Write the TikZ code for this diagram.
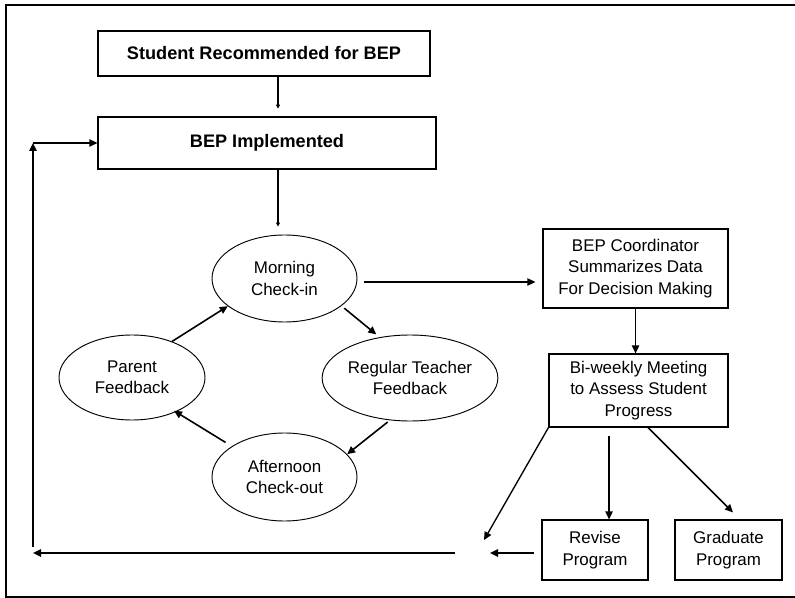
\documentclass[tikz,border=0pt]{standalone}
\usepackage{fontspec}
\setmainfont{Liberation Sans}
\usetikzlibrary{arrows.meta,calc,shapes.geometric}
\begin{document}
\begin{tikzpicture}[x=0.75pt,y=-0.75pt,
  txt/.style={font=\fontsize{12.7pt}{16pt}\selectfont,align=center,inner sep=0pt},
  boxb/.style={draw,line width=0.9pt,inner sep=0pt,font=\fontsize{13.6pt}{16pt}\selectfont\bfseries},
  box/.style={txt,draw,line width=0.9pt},
  ell/.style={txt,draw,ellipse,line width=0.7pt},
  arr/.style={line width=1.2pt,-{Triangle[length=6pt,width=5.5pt]}},
  thinarr/.style={line width=0.8pt,-{Triangle[length=3pt,width=3pt]}}]
\useasboundingbox (0,0) rectangle (795,598);
% frame
\draw[line width=2.2pt] (6,598) -- (6,5) -- (800,5);
\draw[line width=1.1pt] (5,597) -- (800,597);
% nodes
\node[boxb,minimum width=249pt,minimum height=33.75pt] (b1) at (264,53.5) {Student Recommended for BEP};
\node[boxb,minimum width=253.5pt,minimum height=39pt] (b2) at (267,143) {BEP Implemented};
\node[ell,minimum width=108.75pt,minimum height=65.25pt] (morning) at (284.5,278.5) {Morning\\Check-in};
\node[ell,minimum width=109.5pt,minimum height=64.5pt] (regular) at (410,378) {Regular Teacher\\Feedback};
\node[ell,minimum width=108.75pt,minimum height=66pt] (afternoon) at (284.5,477) {Afternoon\\Check-out};
\node[ell,minimum width=109.5pt,minimum height=63.75pt] (parent) at (132,377.5) {Parent\\Feedback};
\node[box,minimum width=138.75pt,minimum height=59.25pt] (coord) at (635.5,268.5) {BEP Coordinator\\Summarizes Data\\For Decision Making};
\node[box,minimum width=134.25pt,minimum height=54.75pt] (biweekly) at (638.5,390.5) {Bi-weekly Meeting\\to Assess Student\\Progress};
\node[box,minimum width=79.5pt,minimum height=45pt] (revise) at (595,550) {Revise\\Program};
\node[box,minimum width=80.25pt,minimum height=45pt] (graduate) at (728.5,550) {Graduate\\Program};
% free-end coordinates
\coordinate (ret) at (484,540);
\coordinate (retb) at (490,553);
\coordinate (cBR) at (455,553);
\coordinate (cBL) at (33,553);
\coordinate (cTL) at (33,143);
% connectors
\draw[thinarr] ($(b1.south)+(14,0)$) -- ($(b1.south)+(14,32)$);
\draw[thinarr] ($(b2.south)+(11,0)$) -- ($(b2.south |- morning.north)+(11,-8)$);
\draw[arr] ($(morning.east)+(7,3.5)$) -- ($(coord.west)+(-7,13.5)$);
\draw[arr] ($(morning.-26)+(3,2)$) -- ($(regular.128)+(-2,-3)$);
\draw[arr] ($(regular.-118)+(0,2)$) -- ($(afternoon.20)+(0,0)$);
\draw[arr] ($(afternoon.150)+(-6,-4)$) -- ($(parent.-40)+(0,-2)$);
\draw[arr] (parent.42) -- ($(morning.-154)+(0,0)$);
\draw[arr] (coord.south) -- (coord.south |- biweekly.north);
\draw[arr] ($(revise.north |- biweekly.south)+(14,8)$) -- ($(revise.north)+(14,0)$);
\draw[arr] ($(biweekly.south)+(9.5,0)$) -- ($(graduate.north)+(4.5,-7)$);
\draw[arr,line width=1pt] (biweekly.south west) -- (ret);
\draw[arr] ($(revise.west)+(-7,3)$) -- (retb);
\draw[arr] (cBR) -- (cBL);
\draw[arr] ($(cBL)+(0,-6)$) -- (cTL);
\draw[arr] (cTL) -- (b2.west);
\end{tikzpicture}
\end{document}
